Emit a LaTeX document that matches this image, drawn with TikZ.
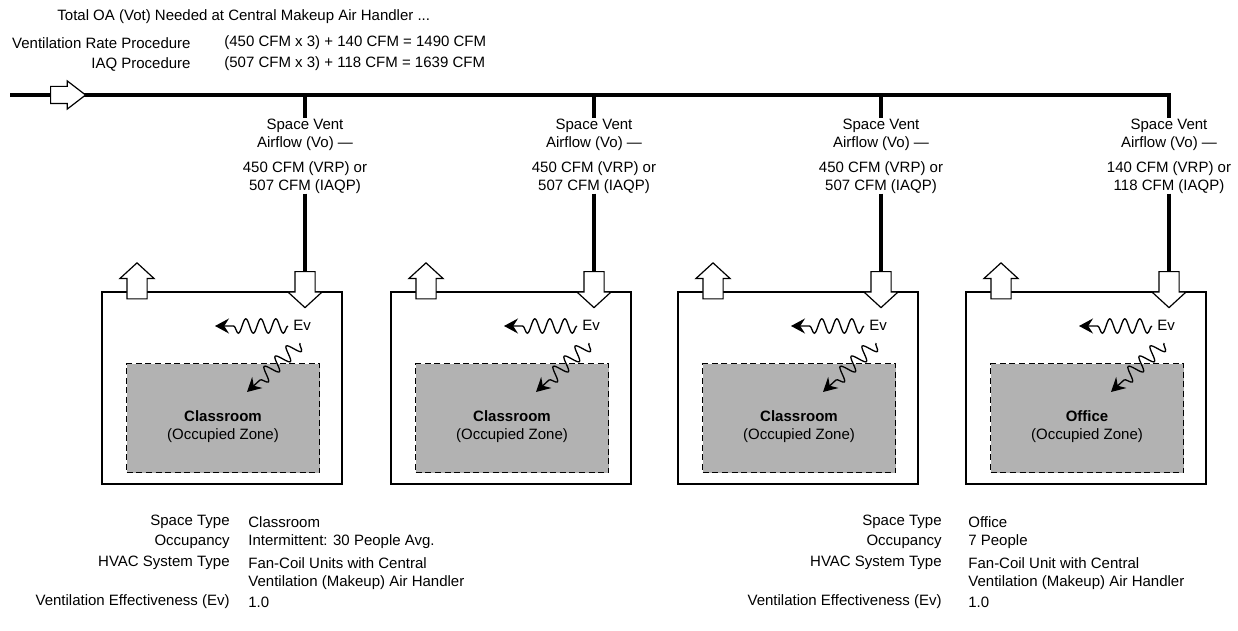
\documentclass[tikz,border=0pt]{standalone}
\usepackage{fontspec}
\setmainfont{Liberation Sans}
\usetikzlibrary{arrows.meta,decorations.pathmorphing,shapes.arrows}

\begin{document}
\begin{tikzpicture}[x=.5pt,y=-.5pt,font=\fontsize{7.5}{9}\selectfont,
    txt/.style={inner sep=0pt},
    duct/.style={line width=1.8pt},
    wall/.style={draw,line width=.9pt,inner sep=0pt},
    zonebox/.style={draw,dash pattern=on 3pt off 1.8pt,line width=.7pt,fill=black!30,inner sep=0pt},
    airflow/.style={single arrow,draw,fill=white,line width=.6pt,inner sep=4.75pt,
      minimum height=18pt,single arrow head extend=3.5pt,single arrow tip angle=95},
    wave/.style={-{Stealth[length=7pt,width=7.5pt,inset=2.4pt]},line width=.65pt,decorate,
      decoration={snake,amplitude=3.6pt,segment length=7.5pt,post length=6pt}}]
  \useasboundingbox (0,0) rectangle (1238,631);

  % header
  \node[txt,anchor=west] (total) at (57,17) {Total OA (Vot) Needed at Central Makeup Air Handler ...};
  \node[txt,anchor=east] (vrp) at (191,43) {Ventilation Rate Procedure};
  \node[txt,anchor=east] (iaqp) at (191,64) {IAQ Procedure};
  \node[txt,anchor=west] (vrpsum) at (224,43) {(450 CFM x 3) + 140 CFM = 1490 CFM};
  \node[txt,anchor=west] (iaqsum) at (224,64) {(507 CFM x 3) + 118 CFM = 1639 CFM};

  % rooms
  \foreach \i/\L/\kind/\vrp/\iaq in {1/101/Classroom/450/507,2/390/Classroom/450/507,
      3/677/Classroom/450/507,4/965/Office/140/118}{
    \pgfmathsetmacro\bx{\L+204}
    \coordinate (tee\i) at (\bx,95);
    \node[wall,anchor=north west,minimum width=120pt,minimum height=96pt] (room\i) at (\L,291) {};
    \node[zonebox,anchor=north west,minimum width=96.5pt,minimum height=54.5pt] (zone\i) at (\L+25,363) {};
    \node[txt,align=center] (name\i) at (\L+122,427) {\textbf{\kind}\\(Occupied Zone)};
    \node[airflow,shape border rotate=90] (exh\i) at (\L+36,285.5) {};
    \node[airflow,shape border rotate=270] (sup\i) at (\bx,285) {};
    \node[txt,align=center] (vo\i) at (\bx,156) {Space Vent\\Airflow (Vo) —\\[3.5pt]\vrp{} CFM (VRP) or\\\iaq{} CFM (IAQP)};
    \draw[duct] (tee\i) -- (vo\i.north);
    \draw[duct] (vo\i.south) -- (sup\i.tail);
    \node[txt] (ev\i) at (\bx-3,325) {Ev};
    \coordinate (evh\i) at (\bx-17,326);
    \coordinate (mix\i) at (\bx-90,326);
    \coordinate (evd\i) at (\bx-5,343);
    \coordinate (occ\i) at (\bx-58,392);
    \draw[wave] (evh\i) -- (mix\i);
    \draw[wave] (evd\i) -- (occ\i);
  }

  % main duct
  \coordinate (start) at (10,95);
  \draw[duct] (start) -- (tee4) -- (vo4.north);
  \node[single arrow,draw,fill=white,line width=.6pt,inner sep=4pt,minimum height=17.5pt,
    single arrow head extend=2.75pt,single arrow tip angle=75] (inlet) at (62.5,95) {};

  % space data
  \node[txt,anchor=east] (typeA) at (230,522) {Space Type};
  \node[txt,anchor=east] (occA) at (230,542) {Occupancy};
  \node[txt,anchor=east] (hvacA) at (230,563) {HVAC System Type};
  \node[txt,anchor=east] (evA) at (230,602) {Ventilation Effectiveness (Ev)};
  \node[txt,anchor=west] at (248,522) {Classroom};
  \node[txt,anchor=west] at (248,542) {Intermittent: 30 People Avg.};
  \node[txt,anchor=north west,align=left] at (248,557) {Fan-Coil Units with Central\\Ventilation (Makeup) Air Handler};
  \node[txt,anchor=west] at (248,602) {1.0};

  \node[txt,anchor=east] (typeB) at (942,522) {Space Type};
  \node[txt,anchor=east] (occB) at (942,542) {Occupancy};
  \node[txt,anchor=east] (hvacB) at (942,563) {HVAC System Type};
  \node[txt,anchor=east] (evB) at (942,602) {Ventilation Effectiveness (Ev)};
  \node[txt,anchor=west] at (968,522) {Office};
  \node[txt,anchor=west] at (968,542) {7 People};
  \node[txt,anchor=north west,align=left] at (968,557) {Fan-Coil Unit with Central\\Ventilation (Makeup) Air Handler};
  \node[txt,anchor=west] at (968,602) {1.0};
\end{tikzpicture}
\end{document}
